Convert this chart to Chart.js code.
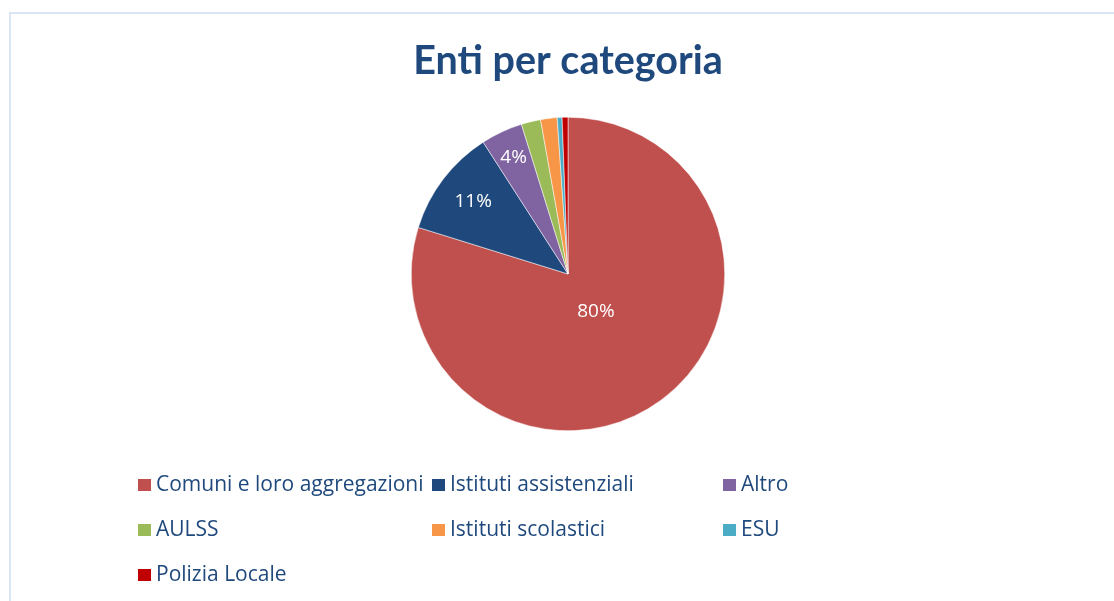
<!DOCTYPE html>
<html>
<head>
<meta charset="utf-8">
<script src="https://cdn.jsdelivr.net/npm/chart.js@4"></script>
<style>
  html, body { margin: 0; padding: 0; background: #fff; }
  #wrap { position: relative; width: 1114px; height: 601px; overflow: hidden; }
  #frame { position: absolute; left: 9px; top: 12px; width: 1200px; height: 700px;
           border-left: 2px solid #dae6f3; border-top: 2px solid #dae6f3; }
  #myChart { position: absolute; left: 0; top: 0; }
  .leg { position: absolute; font-family: "Open Sans", sans-serif; font-size: 21px; color: #1f497d;
         line-height: 24px; white-space: nowrap; }
  .leg span { display: inline-block; width: 13px; height: 12px; margin-right: 5px; vertical-align: 0px; }
</style>
</head>
<body>
<div id="wrap">
  <div id="frame"></div>
  <canvas id="myChart" width="1114" height="601"></canvas>
  <div id="legend"></div>
</div>
<script>
const ctx = document.getElementById('myChart');

// categorie e quote (%)
const categorie = [
  'Comuni e loro aggregazioni',
  'Istituti assistenziali',
  'Altro',
  'AULSS',
  'Istituti scolastici',
  'ESU',
  'Polizia Locale'
];
const quote = [79.8, 11.1, 4.3, 2.0, 1.7, 0.5, 0.6];
const etichette = ['80%', '11%', '4%', '', '', '', ''];

const colori = ['#c0504d', '#1f497d', '#8064a2', '#9bbb59', '#f79646', '#4bacc6', '#c00000'];

// distanza delle etichette dal centro, come frazione del raggio
const labelRadius = [0.3, 0.76, 0.82, 0, 0, 0, 0];

const sliceLabels = {
  id: 'sliceLabels',
  afterDatasetsDraw(chart) {
    const c = chart.ctx;
    const meta = chart.getDatasetMeta(0);
    c.save();
    c.fillStyle = '#fff';
    c.font = '19px "Open Sans", sans-serif';
    c.textAlign = 'center';
    c.textBaseline = 'middle';
    meta.data.forEach((arc, i) => {
      if (!etichette[i]) return;
      const { x, y, startAngle, endAngle, outerRadius } = arc.getProps(['x', 'y', 'startAngle', 'endAngle', 'outerRadius'], true);
      const mid = (startAngle + endAngle) / 2;
      const r = outerRadius * labelRadius[i];
      c.fillText(etichette[i], x + Math.cos(mid) * r, y + Math.sin(mid) * r);
    });
    c.restore();
  }
};

new Chart(ctx, {
  type: 'pie',
  data: {
    labels: categorie,
    datasets: [{
      data: quote,
      backgroundColor: colori,
      borderColor: '#ffffff',
      borderWidth: 0.5
    }]
  },
  options: {
    responsive: false,
    animation: false,
    layout: {
      padding: { left: 411, right: 389, bottom: 170, top: 0 }
    },
    plugins: {
      title: {
        display: true,
        text: 'Enti per categoria',
        color: '#1f497d',
        font: { family: 'Lato', size: 39.5, weight: 'bold' },
        padding: { top: 38, bottom: 31.6 }
      },
      legend: { display: false },
      tooltip: { enabled: false }
    }
  },
  plugins: [sliceLabels]
});

// legenda a tre colonne
const colX = [138, 432, 723];
const rowY = [471, 516, 561];
const legend = document.getElementById('legend');
categorie.forEach((nome, i) => {
  const d = document.createElement('div');
  d.className = 'leg';
  d.style.left = colX[i % 3] + 'px';
  d.style.top = rowY[Math.floor(i / 3)] + 'px';
  d.innerHTML = '<span style="background:' + colori[i] + '"></span>' + nome;
  legend.appendChild(d);
});
</script>
</body>
</html>
